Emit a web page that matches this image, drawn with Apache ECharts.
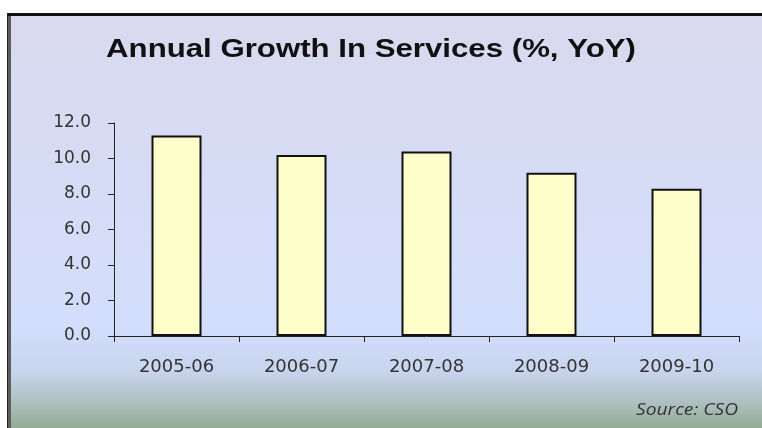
<!DOCTYPE html>
<html>
<head>
<meta charset="utf-8">
<script src="https://cdn.jsdelivr.net/npm/echarts@6/dist/echarts.min.js"></script>
<style>
  html, body { margin: 0; padding: 0; background: #ffffff; }
  #chart { width: 762px; height: 428px; }
</style>
</head>
<body>
<div id="chart"></div>
<script>
// Fiscal years and annual growth in services (% year on year)
const years = ['2005-06', '2006-07', '2007-08', '2008-09', '2009-10'];
const growth = [11.3, 10.2, 10.4, 9.2, 8.3];
const yTicks = { min: 0, max: 12, step: 2 };

const chart = echarts.init(document.getElementById('chart'));

chart.setOption({
  animation: false,
  backgroundColor: '#ffffff',
  graphic: [
    {
      // slide panel with its soft vertical gradient
      type: 'rect',
      z: -10,
      shape: { x: 8, y: 13, width: 760, height: 420 },
      style: {
        fill: new echarts.graphic.LinearGradient(0, 0, 0, 1, [
          { offset: 0, color: '#d9d9ee' },
          { offset: 0.74, color: '#d3defc' },
          { offset: 0.85, color: '#c9d5ee' },
          { offset: 0.93, color: '#adbfbf' },
          { offset: 1, color: '#8da78b' }
        ])
      }
    },
    {
      type: 'line', z: -5,
      shape: { x1: 7, y1: 14.5, x2: 762, y2: 14.5 },
      style: { stroke: '#111111', lineWidth: 3 }
    },
    {
      type: 'line', z: -5,
      shape: { x1: 7.5, y1: 13, x2: 7.5, y2: 428 },
      style: { stroke: '#222222', lineWidth: 1 }
    },
    {
      type: 'line', z: -5,
      shape: { x1: 9.5, y1: 16, x2: 9.5, y2: 428 },
      style: { stroke: '#5e5e5e', lineWidth: 3 }
    },
    {
      // chart title, set a little wide like the slide it sits on
      type: 'text',
      x: 371,
      y: 50,
      scaleX: 1.2,
      style: {
        text: 'Annual Growth In Services (%, YoY)',
        fill: '#111111',
        font: 'bold 26px "Liberation Sans", Arial, sans-serif',
        align: 'center',
        verticalAlign: 'middle'
      }
    },
    {
      type: 'text',
      x: 738,
      y: 410,
      scaleX: 1.2,
      style: {
        text: 'Source: CSO',
        fill: '#333333',
        font: 'italic 16px "Open Sans", sans-serif',
        align: 'right',
        verticalAlign: 'middle'
      }
    }
  ],
  grid: { left: 114, right: 23, top: 123, bottom: 92, containLabel: false },
  xAxis: {
    type: 'category',
    data: years,
    axisLine: { lineStyle: { color: '#222222', width: 1 } },
    axisTick: { show: true, length: 6, inside: false, lineStyle: { color: '#222222' } },
    axisLabel: {
      margin: 22,
      fontFamily: '"DejaVu Sans", sans-serif',
      fontSize: 18,
      color: '#333333'
    }
  },
  yAxis: {
    type: 'value',
    min: yTicks.min,
    max: yTicks.max,
    interval: yTicks.step,
    splitLine: { show: false },
    axisLine: { show: true, lineStyle: { color: '#222222', width: 1 } },
    axisTick: { show: true, length: 6, lineStyle: { color: '#222222' } },
    axisLabel: {
      margin: 23,
      fontFamily: '"DejaVu Sans", sans-serif',
      fontSize: 17,
      color: '#333333',
      formatter: v => v.toFixed(1)
    }
  },
  series: [{
    type: 'bar',
    data: growth,
    barWidth: 50,
    itemStyle: { color: '#ffffcc', borderColor: '#111111', borderWidth: 2 }
  }]
});
</script>
</body>
</html>
